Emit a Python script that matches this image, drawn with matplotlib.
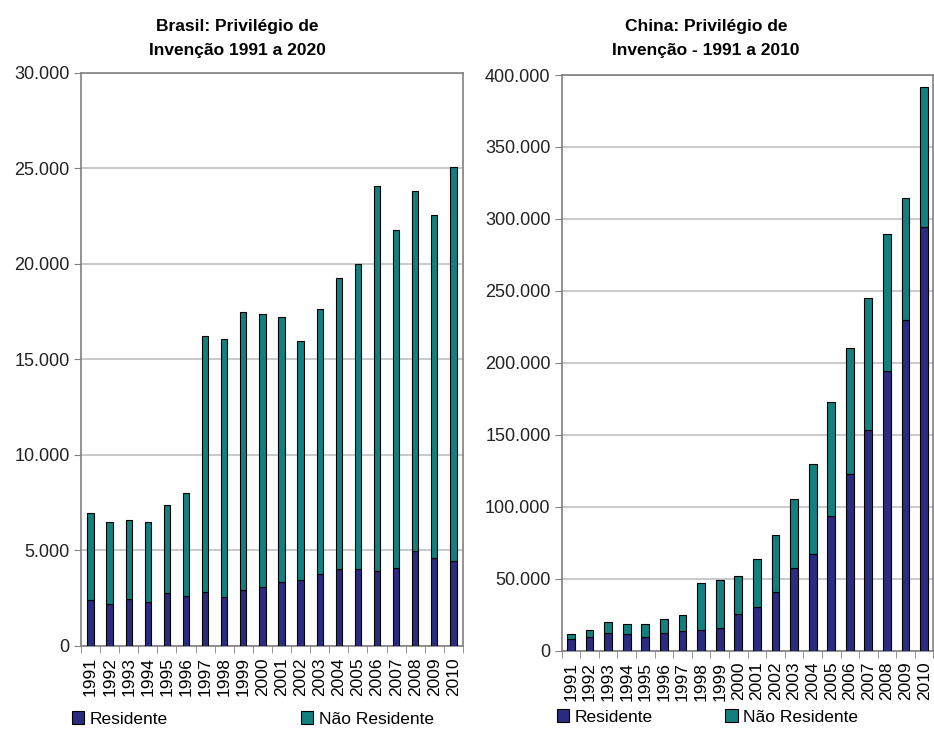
import matplotlib.pyplot as plt
from matplotlib.patches import Patch
from matplotlib.ticker import FuncFormatter
import numpy as np

plt.rcParams['font.family'] = ['Liberation Sans', 'DejaVu Sans']

anos = [str(a) for a in range(1991, 2011)]

# Brasil - totais e residentes
brasil_total = [6950, 6510, 6600, 6510, 7400, 8030, 16230, 16070, 17490, 17400,
                17230, 15970, 17660, 19290, 19990, 24090, 21780, 23820, 22570, 25080]
brasil_res = [2410, 2200, 2460, 2290, 2760, 2640, 2830, 2580, 2920, 3110,
              3370, 3440, 3770, 4010, 4010, 3910, 4100, 4990, 4620, 4430]

# China - totais e residentes
china_total = [11600, 14200, 19900, 18600, 18500, 22200, 24600, 47300, 49300, 51900,
               63500, 80400, 105200, 129900, 172800, 210300, 244900, 289700, 314500, 391400]
china_res = [7900, 9700, 12500, 11400, 9700, 12500, 13900, 14600, 15800, 25700,
             30200, 41000, 57500, 67200, 93800, 122600, 153300, 194600, 230000, 294200]

COR_RES = '#2B2B80'
COR_NAO = '#138080'

def fmt(v, pos):
    return f'{int(v):,}'.replace(',', '.')

def desenha(ax, total, res, ymax, passo, largura):
    x = np.arange(len(anos))
    nao = [t - r for t, r in zip(total, res)]
    ax.bar(x, res, width=largura, color=COR_RES, edgecolor='black', linewidth=0.8, zorder=3)
    ax.bar(x, nao, width=largura, bottom=res, color=COR_NAO, edgecolor='black',
           linewidth=0.8, zorder=3)
    ax.set_xlim(-0.5, len(anos) - 0.5)
    ax.set_ylim(0, ymax)
    ax.set_yticks(np.arange(0, ymax + 1, passo))
    ax.yaxis.set_major_formatter(FuncFormatter(fmt))
    ax.set_xticks(x)
    ax.set_xticklabels(anos, rotation=90, fontsize=12.5)
    ax.set_xticks(np.arange(-0.5, len(anos)), minor=True)
    ax.tick_params(axis='x', which='major', length=0, pad=8)
    ax.tick_params(axis='x', which='minor', length=5, color='#808080')
    ax.tick_params(axis='y', length=5, color='#808080', labelsize=13, pad=3,
                   labelcolor='#222222')
    ax.grid(axis='y', color='#c0c0c0', linewidth=1.2, zorder=0)
    for s in ax.spines.values():
        s.set_color('#808080')
        s.set_linewidth(1.2)

fig = plt.figure(figsize=(9.34, 7.29), dpi=100)

ax1 = fig.add_axes([0.0867, 0.1139, 0.409, 0.786])
desenha(ax1, brasil_total, brasil_res, 30000, 5000, 0.33)

ax2 = fig.add_axes([0.6014, 0.1074, 0.398, 0.7897])
desenha(ax2, china_total, china_res, 400000, 50000, 0.42)

fig.text(237 / 934, 1 - 38 / 729, 'Brasil: Privilégio de\nInvenção 1991 a 2020',
         ha='center', va='center', fontsize=12.5, fontweight='bold', linespacing=1.75)
fig.text(706 / 934, 1 - 38 / 729, 'China: Privilégio de\nInvenção - 1991 a 2010',
         ha='center', va='center', fontsize=12.5, fontweight='bold', linespacing=1.75)

handles = [Patch(facecolor=COR_RES, edgecolor='black', linewidth=0.8),
           Patch(facecolor=COR_NAO, edgecolor='black', linewidth=0.8)]
labels = ['Residente', 'Não Residente']

fig.legend(handles, labels, loc='center left', bbox_to_anchor=(72 / 934, 1 - 719 / 729),
           ncol=2, frameon=False, fontsize=12.5, handlelength=0.7, handleheight=0.7,
           handletextpad=0.3, columnspacing=7.7, borderpad=0, borderaxespad=0)
fig.legend(handles, labels, loc='center left', bbox_to_anchor=(557 / 934, 1 - 717 / 729),
           ncol=2, frameon=False, fontsize=12.5, handlelength=0.7, handleheight=0.7,
           handletextpad=0.3, columnspacing=4.2, borderpad=0, borderaxespad=0)

fig.savefig('out.png', dpi=100)
